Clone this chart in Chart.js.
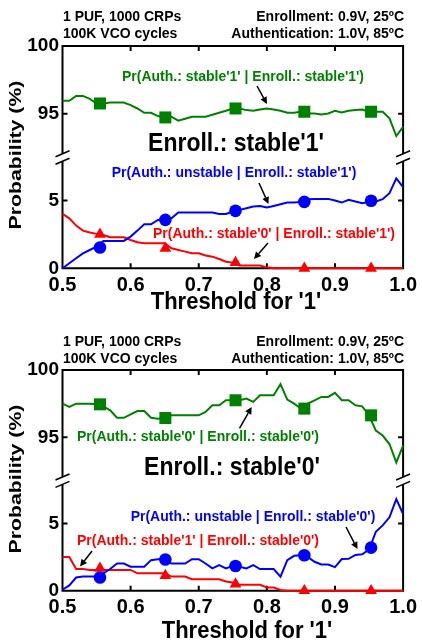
<!DOCTYPE html>
<html>
<head>
<meta charset="utf-8">
<script src="https://cdn.jsdelivr.net/npm/chart.js@4.4.0/dist/chart.umd.min.js"></script>
<style>
  html, body { margin: 0; padding: 0; background: #fff; overflow: hidden; }
  canvas { position: absolute; left: 0; }
</style>
</head>
<body>
<canvas id="panel1" width="422" height="321" style="top:0px"></canvas>
<canvas id="panel2" width="422" height="318" style="top:324px"></canvas>
<script>
// x values (threshold for '1'), one point every 0.01
var thresholds = [0.50, 0.51, 0.52, 0.53, 0.54, 0.55, 0.56, 0.57, 0.58, 0.59,
                  0.60, 0.61, 0.62, 0.63, 0.64, 0.65, 0.66, 0.67, 0.68, 0.69,
                  0.70, 0.71, 0.72, 0.73, 0.74, 0.75, 0.76, 0.77, 0.78, 0.79,
                  0.80, 0.81, 0.82, 0.83, 0.84, 0.85, 0.86, 0.87, 0.88, 0.89,
                  0.90, 0.91, 0.92, 0.93, 0.94, 0.95, 0.96, 0.97, 0.98, 0.99, 1.00];
var markerX = [0.555, 0.651, 0.754, 0.855, 0.953];

var xTicks = [0.5, 0.6, 0.7, 0.8, 0.9, 1.0];
var yTopTicks = [95, 100];
var yBotTicks = [0, 5];

// Enroll.: stable'1'
var p1Green = [95.96, 95.96, 96.32, 96.32, 96.10, 95.76, 95.76, 95.83, 95.83, 95.83,
               95.64, 95.39, 95.07, 95.07, 94.83, 94.73, 94.78, 94.49, 94.63, 94.78,
               94.78, 94.78, 94.93, 95.07, 95.22, 95.39, 95.39, 95.27, 95.22, 95.32,
               95.39, 95.32, 95.22, 95.07, 95.07, 95.15, 95.02, 95.02, 94.95, 95.02,
               95.22, 95.10, 95.22, 95.27, 95.32, 95.15, 95.15, 95.15, 94.66, 93.36, 94.04];
var p1Blue = [0.00, 0.37, 0.74, 1.10, 1.35, 1.60, 2.02, 2.02, 2.02, 2.02,
              2.34, 2.78, 3.25, 3.25, 3.57, 3.57, 3.69, 4.11, 4.11, 4.11,
              4.11, 4.11, 4.11, 4.01, 4.01, 4.19, 4.31, 4.43, 4.56, 4.60,
              4.48, 4.60, 4.73, 4.85, 4.85, 4.90, 5.10, 5.12, 5.12, 5.12,
              5.00, 4.85, 5.05, 4.93, 4.80, 4.90, 4.93, 5.10, 5.54, 6.63, 5.99];
var p1Red = [4.01, 3.69, 3.15, 2.78, 2.64, 2.54, 2.46, 2.29, 2.29, 2.29,
             2.09, 1.92, 1.85, 1.85, 1.85, 1.85, 1.48, 1.35, 1.23, 1.11,
             1.11, 0.94, 0.86, 0.69, 0.49, 0.42, 0.20, 0.20, 0.20, 0.20,
             0.07, 0, 0, 0, 0, 0, 0, 0, 0, 0,
             0, 0, 0, 0, 0, 0, 0, 0, 0, 0, 0];
var p1GreenMarks = [95.76, 94.73, 95.39, 95.15, 95.15];
var p1BlueMarks = [1.53, 3.57, 4.24, 4.90, 4.98];
var p1RedMarks = [2.51, 1.48, 0.42, 0, 0];

// Enroll.: stable'0'
var p2Green = [97.50, 97.25, 97.50, 97.50, 97.50, 97.45, 97.30, 97.00, 96.45, 96.45,
               96.70, 96.95, 96.95, 96.45, 96.38, 96.43, 96.63, 96.63, 96.63, 96.63,
               96.63, 96.88, 97.38, 97.38, 97.75, 97.75, 97.75, 97.88, 97.63, 98.13,
               98.13, 98.13, 98.95, 97.80, 97.50, 97.13, 97.50, 97.75, 98.00, 98.00,
               98.30, 97.75, 97.75, 97.38, 97.30, 96.63, 95.50, 95.13, 94.50, 93.13, 94.38];
var p2Blue = [0.07, 0.39, 0.98, 1.05, 1.05, 1.05, 1.29, 1.61, 2.02, 2.02,
              1.78, 1.78, 1.78, 2.27, 2.34, 2.34, 2.02, 2.02, 2.02, 2.34,
              2.34, 2.02, 1.66, 1.90, 1.66, 1.85, 1.78, 1.66, 1.90, 1.61,
              1.61, 1.61, 1.05, 2.27, 2.59, 2.63, 2.51, 2.15, 1.95, 1.95,
              1.75, 2.35, 2.37, 2.66, 2.70, 3.05, 4.38, 4.85, 5.45, 6.80, 5.70];
var p2Red = [2.51, 2.51, 1.61, 1.61, 1.54, 1.54, 1.54, 1.54, 1.54, 1.54,
             1.54, 1.29, 1.29, 1.29, 1.29, 1.29, 1.05, 1.05, 1.05, 0.85,
             0.85, 0.85, 0.85, 0.85, 0.68, 0.61, 0.44, 0.44, 0.44, 0.44,
             0.24, 0.24, 0.05, 0, 0, 0, 0, 0, 0, 0,
             0, 0, 0, 0, 0, 0, 0, 0, 0, 0, 0];
var p2GreenMarks = [97.45, 96.43, 97.75, 97.13, 96.63];
var p2BlueMarks = [0.98, 2.32, 1.83, 2.63, 3.20];
var p2RedMarks = [1.66, 1.12, 0.49, 0, 0];

var GREEN = '#008000', BLUE = '#0000ff', RED = '#ff0000';
var FONT = "'Liberation Sans', Arial, Helvetica, sans-serif";

Chart.defaults.font.family = FONT;
Chart.defaults.font.weight = 'bold';
Chart.defaults.color = '#000';

// axis break: value on the upper / lower scale where the // marks sit
var breakTop = 92.05;
var breakBot = 7.9;

function toPoints(xs, ys) {
    return ys.map(function (v, i) { return { x: xs[i], y: v }; });
}

var panels = [
    {
        id: 'panel1', height: 321, areaBottom: 268.3,
        green: p1Green, blue: p1Blue, red: p1Red,
        greenMarks: p1GreenMarks, blueMarks: p1BlueMarks, redMarks: p1RedMarks,
        texts: [
            { t: '1 PUF, 1000 CRPs', x: 63, y: 21.3, align: 'left', size: 14 },
            { t: '100K VCO cycles', x: 63, y: 37.5, align: 'left', size: 14 },
            { t: 'Enrollment: 0.9V, 25\u00baC', x: 404, y: 21.3, align: 'right', size: 14 },
            { t: 'Authentication: 1.0V, 85\u00baC', x: 404, y: 37.5, align: 'right', size: 14 },
            { t: "Pr(Auth.: stable'1' | Enroll.: stable'1')", x: 243, y: 77, size: 14, color: GREEN, mid: true },
            { t: "Enroll.: stable'1'", x: 236, y: 144, size: 23, mid: true, tall: 1.1 },
            { t: "Pr(Auth.: unstable | Enroll.: stable'1')", x: 234, y: 173, size: 14, color: BLUE, mid: true },
            { t: "Pr(Auth.: stable'0' | Enroll.: stable'1')", x: 274, y: 234, size: 14, color: RED, mid: true },
            { t: "Threshold for '1'", x: 236, y: 302, size: 22, mid: true, tall: 1.1 }
        ],
        arrows: [[257, 86, 267, 104], [259, 183, 268.5, 204], [268, 243, 254, 259]],
        yTitle: 155
    },
    {
        id: 'panel2', height: 318, areaBottom: 266.7,
        green: p2Green, blue: p2Blue, red: p2Red,
        greenMarks: p2GreenMarks, blueMarks: p2BlueMarks, redMarks: p2RedMarks,
        texts: [
            { t: '1 PUF, 1000 CRPs', x: 63, y: 21.7, align: 'left', size: 14 },
            { t: '100K VCO cycles', x: 63, y: 38.7, align: 'left', size: 14 },
            { t: 'Enrollment: 0.9V, 25\u00baC', x: 404, y: 21.7, align: 'right', size: 14 },
            { t: 'Authentication: 1.0V, 85\u00baC', x: 404, y: 38.7, align: 'right', size: 14 },
            { t: "Pr(Auth.: stable'0' | Enroll.: stable'0')", x: 198, y: 113, size: 14, color: GREEN, mid: true },
            { t: "Enroll.: stable'0'", x: 232, y: 144, size: 23, mid: true, tall: 1.1 },
            { t: "Pr(Auth.: unstable | Enroll.: stable'0')", x: 253, y: 193.5, size: 14, color: BLUE, mid: true },
            { t: "Pr(Auth.: stable'1' | Enroll.: stable'0')", x: 198, y: 217, size: 14, color: RED, mid: true },
            { t: "Threshold for '1'", x: 247, y: 307, size: 22, mid: true, tall: 1.1 }
        ],
        arrows: [[239.5, 104.3, 251.7, 83], [92, 227, 80, 242.5], [346, 203, 357.5, 225]],
        yTitle: 155
    }
];

function drawArrow(ctx, x1, y1, x2, y2) {
    var ang = Math.atan2(y2 - y1, x2 - x1);
    var len = 7, half = 3.5;
    var bx = x2 - Math.cos(ang) * len, by = y2 - Math.sin(ang) * len;
    ctx.beginPath();
    ctx.moveTo(x1, y1);
    ctx.lineTo(bx, by);
    ctx.stroke();
    ctx.beginPath();
    ctx.moveTo(x2, y2);
    ctx.lineTo(bx - Math.sin(ang) * half, by + Math.cos(ang) * half);
    ctx.lineTo(bx + Math.sin(ang) * half, by - Math.cos(ang) * half);
    ctx.closePath();
    ctx.fill();
}

function makeDecor(panel) {
    return {
        id: 'decor',
        beforeDatasetsDraw: function (chart) {
            var ctx = chart.ctx, a = chart.chartArea;
            var xs = chart.scales.x, yt = chart.scales.yTop, yb = chart.scales.yBot;
            var cutTop = yt.getPixelForValue(breakTop);
            var cutBot = yb.getPixelForValue(breakBot);
            ctx.save();
            ctx.strokeStyle = '#000';
            ctx.lineWidth = 2;
            ctx.beginPath();
            ctx.moveTo(a.left - 1, a.top); ctx.lineTo(a.right + 1, a.top);
            ctx.moveTo(a.left - 1, a.bottom); ctx.lineTo(a.right + 1, a.bottom);
            [a.left, a.right].forEach(function (px) {
                ctx.moveTo(px, a.top); ctx.lineTo(px, cutTop);
                ctx.moveTo(px, cutBot); ctx.lineTo(px, a.bottom);
            });
            xTicks.forEach(function (v) {
                var px = xs.getPixelForValue(v);
                ctx.moveTo(px, a.bottom); ctx.lineTo(px, a.bottom - 5);
                ctx.moveTo(px, a.top); ctx.lineTo(px, a.top + 5);
            });
            yTopTicks.forEach(function (v) {
                var py = yt.getPixelForValue(v);
                ctx.moveTo(a.left, py); ctx.lineTo(a.left + 5, py);
                ctx.moveTo(a.right, py); ctx.lineTo(a.right - 5, py);
            });
            yBotTicks.forEach(function (v) {
                var py = yb.getPixelForValue(v);
                ctx.moveTo(a.left, py); ctx.lineTo(a.left + 5, py);
                ctx.moveTo(a.right, py); ctx.lineTo(a.right - 5, py);
            });
            ctx.stroke();
            // break marks
            ctx.lineWidth = 1.6;
            ctx.beginPath();
            [a.left, a.right].forEach(function (px) {
                [cutTop, cutBot].forEach(function (py) {
                    ctx.moveTo(px - 7, py + 3); ctx.lineTo(px + 7, py - 3);
                });
            });
            ctx.stroke();
            ctx.restore();
        },
        afterDraw: function (chart) {
            var ctx = chart.ctx;
            ctx.save();
            panel.texts.forEach(function (d) {
                ctx.save();
                ctx.translate(d.x, d.y);
                ctx.scale(1, d.tall || 1);
                ctx.font = 'bold ' + d.size + 'px ' + FONT;
                ctx.fillStyle = d.color || '#000';
                ctx.textAlign = d.mid ? 'center' : d.align;
                ctx.textBaseline = d.mid ? 'middle' : 'alphabetic';
                ctx.fillText(d.t, 0, 0);
                ctx.restore();
            });
            // y axis title (the source figure is stretched along this axis)
            ctx.save();
            ctx.translate(16, panel.yTitle);
            ctx.rotate(-Math.PI / 2);
            ctx.scale(1.25, 1);
            ctx.font = 'bold 17px ' + FONT;
            ctx.fillStyle = '#000';
            ctx.textAlign = 'center';
            ctx.textBaseline = 'middle';
            ctx.fillText('Probability (%)', 0, 0);
            ctx.restore();
            // arrows
            ctx.strokeStyle = '#000';
            ctx.fillStyle = '#000';
            ctx.lineWidth = 1.5;
            panel.arrows.forEach(function (p) { drawArrow(ctx, p[0], p[1], p[2], p[3]); });
            ctx.restore();
        }
    };
}

function yAxis(min, max, ticks) {
    return {
        type: 'linear', position: 'left', stack: 'prob', stackWeight: 1,
        min: min, max: max,
        afterBuildTicks: function (s) { s.ticks = ticks.map(function (v) { return { value: v }; }); },
        afterFit: function (s) { s.width = 62.5; },
        grid: { display: false, drawTicks: false },
        border: { display: false },
        ticks: { padding: 3.5, font: { size: 19, weight: 'bold' }, color: '#000' }
    };
}

panels.forEach(function (panel) {
    var lineDs = function (data, color, axis) {
        return {
            data: toPoints(thresholds, data), yAxisID: axis,
            borderColor: color, borderWidth: 2, pointRadius: 0,
            fill: false, tension: 0, clip: false, order: 2
        };
    };
    var markDs = function (data, color, axis, style, r) {
        return {
            data: toPoints(markerX, data), yAxisID: axis, showLine: false,
            pointStyle: style, pointRadius: r, borderWidth: 0,
            backgroundColor: color, borderColor: color, clip: false, order: 1
        };
    };

    new Chart(document.getElementById(panel.id), {
        type: 'line',
        data: {
            datasets: [
                lineDs(panel.green, GREEN, 'yTop'),
                lineDs(panel.blue, BLUE, 'yBot'),
                lineDs(panel.red, RED, 'yBot'),
                markDs(panel.greenMarks, GREEN, 'yTop', 'rect', 8.5),
                markDs(panel.blueMarks, BLUE, 'yBot', 'circle', 6.3),
                markDs(panel.redMarks, RED, 'yBot', 'triangle', 6.8)
            ]
        },
        options: {
            responsive: false,
            animation: false,
            layout: { padding: { top: 46, left: 0, right: 16.5, bottom: 0 } },
            plugins: { legend: { display: false }, tooltip: { enabled: false } },
            scales: {
                x: {
                    type: 'linear', min: 0.5, max: 1.0,
                    afterBuildTicks: function (s) { s.ticks = xTicks.map(function (v) { return { value: v }; }); },
                    afterFit: function (s) { s.height = panel.height - panel.areaBottom; },
                    grid: { display: false, drawTicks: false },
                    border: { display: false },
                    ticks: {
                        padding: 5, maxRotation: 0, autoSkip: false, color: '#000',
                        font: { size: 20, weight: 'bold' },
                        callback: function (v) { return v.toFixed(1); }
                    }
                },
                // stacked left axes: the one listed last is placed on top
                yBot: yAxis(0, 8.2, yBotTicks),
                yTop: yAxis(91.8, 100, yTopTicks)
            }
        },
        plugins: [makeDecor(panel)]
    });
});
</script>
</body>
</html>
